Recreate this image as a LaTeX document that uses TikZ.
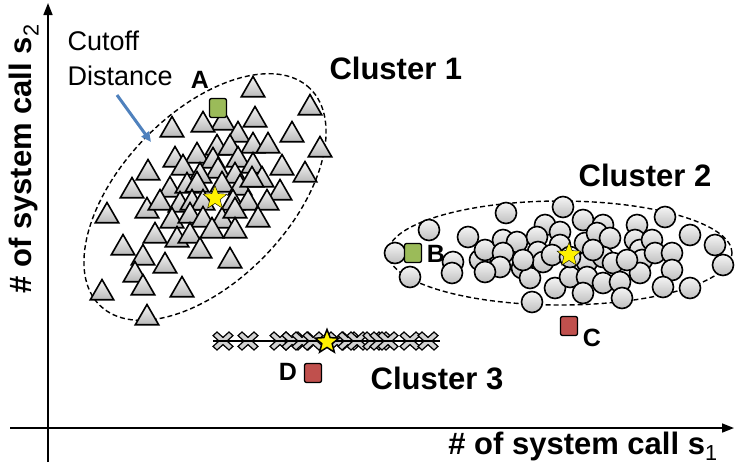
\documentclass[tikz,border=0pt]{standalone}
\usepackage{fontspec}
\setmainfont{Liberation Sans}
\usetikzlibrary{shapes.geometric,arrows.meta}
\definecolor{ptgreen}{RGB}{155,187,89}
\definecolor{ptred}{RGB}{192,80,77}
\definecolor{cutblue}{RGB}{79,129,189}
\tikzset{
  tri/.style={draw, line width=1.6pt, regular polygon, regular polygon sides=3,
    minimum size=27pt, inner sep=0pt, top color=gray!8, bottom color=gray!55, yshift=-3pt},
  ball/.style={draw, line width=1.6pt, circle, minimum size=21pt, inner sep=0pt,
    top color=gray!8, bottom color=gray!50},
  ctr/.style={draw, star, star points=5, star point ratio=2.3, minimum size=25pt,
    inner sep=0pt, fill=yellow, line width=0.4pt},
  sample/.style={draw, line width=1.3pt, rounded corners=2pt, minimum width=17pt,
    minimum height=19pt, inner sep=0pt},
  clu/.style={font=\fontsize{31}{34}\selectfont\bfseries},
  ptlabel/.style={font=\fontsize{25}{28}\selectfont\bfseries},
  axlabel/.style={font=\fontsize{31}{34}\selectfont\bfseries},
  cutoff/.style={dash pattern=on 5pt off 3pt, line width=1.4pt},
  xmk/.pic={\draw[fill=gray!35, line width=1.2pt, yscale=0.9] (0,4)--(6,10)--(10,6)--(4,0)
    --(10,-6)--(6,-10)--(0,-4)--(-6,-10)--(-10,-6)--(-4,0)--(-10,6)--(-6,10)--cycle;}
}
\begin{document}
\begin{tikzpicture}[x=1pt, y=-1pt, >={Triangle[length=12pt,width=9pt]}]
  \useasboundingbox (0,0) rectangle (735,467);
  % axes
  \coordinate (ybot) at (48,462);
  \coordinate (ytop) at (48,3);
  \coordinate (xleft) at (10,428);
  \coordinate (xright) at (734,428);
  \draw[->, line width=1.6pt] (ybot) -- (ytop);
  \draw[->, line width=1.6pt] (xleft) -- (xright);
  \node[axlabel, anchor=base] (xlab) at (583,454) {\# of system call s\textsubscript{\mdseries 1}};
  \node[axlabel, rotate=90] (ylab) at (24,159) {\# of system call s\textsubscript{\mdseries 2}};

  % cluster 1
  \draw[cutoff, rotate around={46:(205,197)}] (205,197) ellipse (151pt and 84pt);
  \foreach \x/\y [count=\i] in {253/87, 310/105, 223/120, 255/117, 172/127, 203/122, 238/132,
      292/132, 320/147, 217/145, 230/145, 253/143, 268/143, 175/157, 197/153, 213/158, 238/157,
      148/170, 183/165, 218/168, 235/173, 253/163, 262/177, 282/165, 305/172, 200/173, 132/188,
      170/187, 187/183, 197/182, 222/182, 240/185, 280/190, 252/177, 107/213, 147/208, 160/200,
      180/202, 192/200, 203/200, 233/200, 248/200, 267/200, 172/218, 190/213, 203/217, 222/218,
      235/208, 258/217, 155/233, 177/237, 190/233, 212/228, 235/228, 123/245, 143/255, 165/263,
      200/248, 230/258, 135/272, 143/285, 182/287, 102/290, 147/315}
    \node[tri] (t\i) at (\x,\y) {};
  \node[ctr] (ctr1) at (215,198) {};
  \node[sample, fill=ptgreen] (ptA) at (218,108) {};
  \node[ptlabel] (labA) at (200,80) {A};
  \node[clu, anchor=west] (clu1) at (326,68) {Cluster 1};

  % cutoff distance note
  \node[font=\fontsize{27}{35}\selectfont, align=left, anchor=west] (cutnote) at (64,58) {Cutoff\\Distance};
  \coordinate (cutTail) at (117,95);
  \coordinate (cutHead) at (151,142);
  \draw[-{Triangle[length=10pt,width=9pt]}, cutblue, line width=3pt] (cutTail) -- (cutHead);

  % cluster 2
  \draw[cutoff] (560,253) ellipse (172pt and 52pt);
  \foreach \x/\y [count=\i] in {563/207, 506/213, 429/230, 468/237, 545/225, 583/220, 603/225,
      637/225, 665/217, 690/235, 715/245, 723/265, 395/253, 410/277, 453/262, 452/273, 480/260,
      485/250, 503/240, 517/242, 537/237, 560/232, 560/245, 503/253, 500/267, 485/272, 522/268,
      530/278, 538/252, 543/262, 552/255, 555/288, 570/277, 585/243, 587/262, 587/277, 583/293,
      597/233, 610/238, 603/257, 613/263, 603/283, 620/282, 622/298, 635/240, 640/250, 652/240,
      642/260, 640/273, 655/253, 672/253, 672/270, 663/287, 690/288, 532/302, 523/260, 593/250,
      627/260, 570/257}
    \node[ball] (c\i) at (\x,\y) {};
  \node[ctr] (ctr2) at (569,255) {};
  \node[sample, fill=ptgreen] (ptB) at (413,253) {};
  \node[ptlabel] (labB) at (436,254) {B};
  \node[sample, fill=ptred] (ptC) at (569,326) {};
  \node[ptlabel] (labC) at (592,338) {C};
  \node[clu] (clu2) at (645,175) {Cluster 2};

  % cluster 3
  \foreach \x in {223,248,280,292,302,313,337,348,357,373,380,388,410,428}
    \pic at (\x,341) {xmk};
  \coordinate (lineL) at (213,341);
  \coordinate (lineR) at (440,341);
  \draw[line width=1.4pt] (lineL) -- (lineR);
  \node[ctr, line width=1.5pt] (ctr3) at (327,342) {};
  \node[sample, fill=ptred] (ptD) at (313,373) {};
  \node[ptlabel] (labD) at (288,372) {D};
  \node[clu] (clu3) at (437,378) {Cluster 3};
\end{tikzpicture}
\end{document}
